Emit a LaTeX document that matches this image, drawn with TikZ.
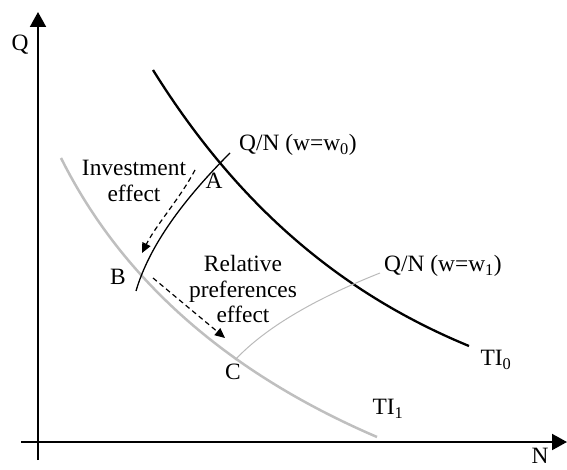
\documentclass[tikz,border=0pt]{standalone}
\usepackage{fontspec}
\setmainfont{Liberation Serif}
\usetikzlibrary{arrows.meta}
\begin{document}
\begin{tikzpicture}[x=1bp,y=-1bp,
  lbl/.style={inner sep=0pt,font=\fontsize{23.5}{26}\selectfont},
  axis/.style={line width=2bp,-{Triangle[width=16bp,length=15bp]}},
  curveA/.style={line width=2.3bp,black},
  curveB/.style={line width=2.5bp,black!25},
  qnA/.style={line width=1.3bp,black},
  qnB/.style={line width=1bp,black!27},
  effarrow/.style={line width=1.2bp,dash pattern=on 5bp off 3.5bp,-{Triangle[width=9bp,length=10bp]}}]
\useasboundingbox (0,0) rectangle (567,470);
% axes
\coordinate (yb) at (38,460);
\coordinate (yt) at (38,12);
\coordinate (xl) at (21,442);
\coordinate (xr) at (567,442);
\draw[axis] (yb) -- (yt);
\draw[axis] (xl) -- (xr);
% curves
\coordinate (b0) at (61,158);
\coordinate (b1) at (377,437);
\draw[curveB] (b0) .. controls (122,280) and (228,373) .. (b1);
\coordinate (a0) at (153,70);
\coordinate (a1) at (469,346);
\draw[curveA] (a0) .. controls (236,203) and (338,292) .. (a1);
\coordinate (w0s) at (136,291);
\coordinate (w0e) at (230,153);
\draw[qnA] (w0s) .. controls (148,250) and (178,205) .. (w0e);
\coordinate (w1s) at (235,360);
\coordinate (w1e) at (380,273);
\draw[qnB] (w1s) .. controls (264,329) and (312,300) .. (w1e);
% effect arrows
\coordinate (i1) at (195,170);
\coordinate (i2) at (142,253);
\draw[effarrow] (i1) .. controls (181,197) and (156,225) .. (i2);
\coordinate (r1) at (153,278);
\coordinate (r2) at (225,338);
\draw[effarrow] (r1) -- (r2);
% labels
\node[lbl] (Q) at (20,45) {Q};
\node[lbl] (N) at (540,456) {N};
\node[lbl,anchor=west] (qn0) at (239,145) {Q/N (w=w\textsubscript{0})};
\node[lbl,anchor=west] (qn1) at (384,266) {Q/N (w=w\textsubscript{1})};
\node[lbl] (A) at (214,181) {A};
\node[lbl] (B) at (118,277) {B};
\node[lbl] (C) at (233,372) {C};
\node[lbl,align=center] (inv) at (134,181) {Investment\\effect};
\node[lbl,align=center] (rel) at (243,289) {Relative\\preferences\\effect};
\node[lbl] (TI0) at (496,360) {TI\textsubscript{0}};
\node[lbl] (TI1) at (388,409) {TI\textsubscript{1}};
\end{tikzpicture}
\end{document}
